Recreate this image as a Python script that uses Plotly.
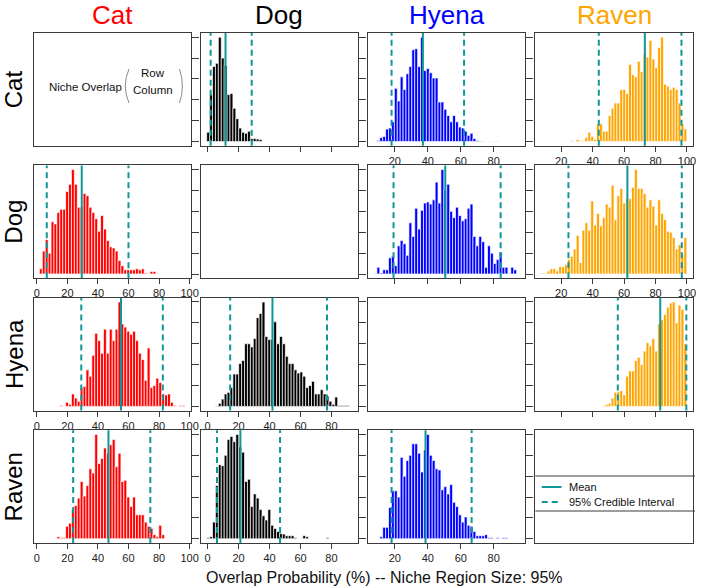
import plotly.graph_objects as go

FIG_W, FIG_H = 703, 586

species = ["Cat", "Dog", "Hyena", "Raven"]
species_colors = ["#FF0000", "#000000", "#0000FF", "#FFA500"]

# per-column range of the overlap values (%), split into 50 histogram bins
col_lo = [1.7, -0.54, 7.33, 7.3]
col_hi = [97.0, 93.4, 95.66, 99.9]
N_BINS = 50
x_ticks = [0, 20, 40, 60, 80, 100]
y_tick_frac = [0, 0.2, 0.4, 0.6, 0.8, 1.0]

# relative density of each bin (first non-empty bin index, heights)
# stats = [lower 95% CI, mean, upper 95% CI]
cat_dog_first = 0
cat_dog = [0.09, 0.45, 0.72, 0.75, 1.0, 0.8, 0.73, 0.45, 0.46, 0.32, 0.22, 0.13, 0.09,
           0.08, 0.1, 0.03, 0.03, 0.025, 0.02]
cat_dog_stats = [2.0, 11.6, 28.5]

cat_hyena_first = 1
cat_hyena = [0.01, 0.04, 0.05, 0.12, 0.13, 0.19, 0.51, 0.39, 0.62, 0.50, 0.65, 0.72, 0.88,
             0.89, 0.72, 1.0, 0.68, 0.70, 0.66, 0.61, 0.61, 0.38, 0.38, 0.31, 0.25, 0.19,
             0.25, 0.19, 0.14, 0.13, 0.10, 0.06, 0.08, 0.03, 0.01, 0.005, 0.004, 0, 0.004,
             0, 0.004, 0.004]
cat_hyena_stats = [18.0, 37.0, 62.0]

cat_raven_first = 10
cat_raven = [0.01, 0, 0.02, 0.01, 0.01, 0.04, 0.09, 0.05, 0.02, 0.17, 0.17, 0.10, 0.10,
             0.25, 0.32, 0.37, 0.37, 0.50, 0.50, 0.46, 0.74, 0.64, 0.62, 0.77, 0.67, 0.84,
             0.81, 0.97, 0.79, 0.71, 0.90, 1.0, 0.55, 0.53, 0.50, 0.52, 0.50, 0.37, 0.17, 0.12]
cat_raven_stats = [43.9, 73.2, 96.5]

dog_cat_first = 0
dog_cat = [0.05, 0.22, 0.33, 0.20, 0.50, 0.48, 0.59, 0.62, 0.62, 0.79, 0.86, 1.0, 0.86,
           0.64, 0.64, 0.77, 0.75, 0.64, 0.59, 0.53, 0.41, 0.56, 0.43, 0.32, 0.26, 0.25,
           0.22, 0.13, 0.08, 0.04, 0.04, 0.04, 0.04, 0.05, 0.04, 0.05, 0.01, 0.006, 0.025,
           0.025, 0.006]
dog_cat_stats = [6.5, 29.4, 60.0]

dog_hyena_first = 0
dog_hyena = [0.006, 0.065, 0.01, 0.04, 0.04, 0.155, 0.17, 0.08, 0.27, 0.32, 0.29, 0.18,
             0.49, 0.36, 0.63, 0.43, 0.61, 0.68, 0.69, 0.67, 0.71, 0.88, 0.68, 1.0, 0.80,
             0.86, 0.60, 0.54, 0.64, 0.56, 0.51, 0.53, 0.63, 0.67, 0.36, 0.27, 0.36, 0.31,
             0.065, 0.27, 0.20, 0.10, 0.14, 0.21, 0.065, 0.065, 0.006, 0.065, 0.04]
dog_hyena_stats = [19.2, 50.6, 84.2]

dog_raven_first = 0
dog_raven = [0.01, 0.01, 0.03, 0.05, 0.05, 0.03, 0.07, 0.07, 0.09, 0.14, 0.17, 0.24, 0.37,
             0.11, 0.42, 0.49, 0.42, 0.70, 0.47, 0.58, 0.46, 0.54, 0.67, 0.64, 0.85, 0.52,
             0.75, 0.82, 0.68, 0.72, 0.72, 0.83, 1.0, 0.82, 0.82, 0.77, 0.64, 0.71, 0.65,
             0.47, 0.71, 0.58, 0.52, 0.41, 0.40, 0.35, 0.24, 0.28, 0.19, 0.35]
dog_raven_stats = [24.6, 62.1, 96.7]

hyena_cat_first = 7
hyena_cat = [0.01, 0, 0.04, 0.02, 0.12, 0.08, 0.05, 0.18, 0.19, 0.35, 0.29, 0.49, 0.70,
             0.63, 0.51, 0.74, 0.51, 0.74, 0.63, 0.74, 1.0, 0.79, 0.76, 0.72, 0.69, 0.72,
             0.63, 0.51, 0.45, 0.25, 0.56, 0.18, 0.20, 0.27, 0.23, 0.12, 0.11, 0.12, 0.04,
             0.01, 0, 0.01, 0.01]
hyena_cat_stats = [29.1, 55.1, 82.5]

hyena_dog_first = 3
hyena_dog = [0.005, 0.03, 0.07, 0.12, 0.135, 0.18, 0.31, 0.31, 0.41, 0.44, 0.60, 0.60, 0.57,
             0.65, 0.85, 0.89, 1.0, 0.67, 0.64, 0.64, 0.81, 0.60, 0.67, 0.60, 0.48, 0.41,
             0.41, 0.35, 0.32, 0.33, 0.29, 0.18, 0.20, 0.24, 0.12, 0.12, 0.16, 0.12, 0.10,
             0.05, 0.02, 0.09, 0.01, 0.01, 0.01, 0.01]
hyena_dog_stats = [14.6, 41.9, 77.1]

hyena_raven_first = 21
hyena_raven = [0.01, 0.02, 0.03, 0.08, 0.135, 0.14, 0.15, 0.11, 0.29, 0.34, 0.34, 0.44, 0.47,
               0.40, 0.53, 0.61, 0.58, 0.65, 0.53, 0.79, 0.83, 0.88, 0.95, 0.99, 1.0, 0.80,
               0.97, 0.93, 0.6]
hyena_raven_stats = [56.0, 83.0, 99.6]

raven_cat_first = 6
raven_cat = [0.02, 0.01, 0.01, 0.12, 0.15, 0.28, 0.32, 0.39, 0.55, 0.41, 0.51, 0.67, 0.63,
             1.0, 0.72, 0.77, 0.87, 0.82, 0.90, 0.95, 0.69, 0.82, 0.55, 0.56, 0.40, 0.31,
             0.40, 0.23, 0.23, 0.23, 0.16, 0.12, 0.10, 0.04, 0.02, 0.13, 0.04]
raven_cat_stats = [23.8, 46.9, 74.3]

raven_dog_first = 0
raven_dog = [0.01, 0.02, 0.16, 0.51, 0.71, 0.70, 0.80, 0.95, 0.98, 0.93, 1.0, 0.88, 0.83,
             0.55, 0.57, 0.31, 0.43, 0.39, 0.28, 0.22, 0.18, 0.28, 0.13, 0.10, 0.07, 0.05,
             0.045, 0.03, 0.03, 0.03, 0.01, 0, 0, 0.03, 0.02, 0, 0, 0, 0, 0, 0, 0.01]
raven_dog_stats = [6.1, 21.2, 46.8]

raven_hyena_first = 2
raven_hyena = [0.02, 0.11, 0.11, 0.30, 0.46, 0.46, 0.40, 0.78, 0.60, 0.75, 0.80, 0.91, 0.91,
               0.82, 0.64, 0.85, 1.0, 0.80, 0.75, 0.67, 0.66, 0.47, 0.50, 0.43, 0.52, 0.35,
               0.31, 0.23, 0.16, 0.21, 0.13, 0.12, 0.07, 0.03, 0.03, 0.03, 0.04, 0.01, 0.01,
               0, 0.01, 0, 0.01, 0.01]
raven_hyena_stats = [18.0, 38.6, 66.6]

panels = {
    (0, 1): (cat_dog_first, cat_dog, cat_dog_stats),
    (0, 2): (cat_hyena_first, cat_hyena, cat_hyena_stats),
    (0, 3): (cat_raven_first, cat_raven, cat_raven_stats),
    (1, 0): (dog_cat_first, dog_cat, dog_cat_stats),
    (1, 2): (dog_hyena_first, dog_hyena, dog_hyena_stats),
    (1, 3): (dog_raven_first, dog_raven, dog_raven_stats),
    (2, 0): (hyena_cat_first, hyena_cat, hyena_cat_stats),
    (2, 1): (hyena_dog_first, hyena_dog, hyena_dog_stats),
    (2, 3): (hyena_raven_first, hyena_raven, hyena_raven_stats),
    (3, 0): (raven_cat_first, raven_cat, raven_cat_stats),
    (3, 1): (raven_dog_first, raven_dog, raven_dog_stats),
    (3, 2): (raven_hyena_first, raven_hyena, raven_hyena_stats),
}
labelled = {(0, 2), (0, 3), (1, 0), (1, 3), (2, 0), (2, 1), (3, 0), (3, 1), (3, 2)}

TEAL = "#109797"
FONT = "Liberation Sans, Arial, sans-serif"
AXIS_COL = "#3a3a3a"

COL_X0 = [34, 203.2, 372.4, 541.6]
PANEL_W = 159
ROW_Y0 = [33, 165.4, 297.8, 430.2]
PANEL_H = 112.8

fig = go.Figure()
layout = dict(
    width=FIG_W, height=FIG_H, margin=dict(l=0, r=0, t=0, b=0),
    paper_bgcolor="white", plot_bgcolor="white", showlegend=False,
    barmode="overlay", font=dict(family=FONT, color="#111"),
)
shapes = []
annotations = []

for r in range(4):
    for c in range(4):
        i = r * 4 + c + 1
        xs = "" if i == 1 else str(i)
        xd = [COL_X0[c] / FIG_W, (COL_X0[c] + PANEL_W) / FIG_W]
        yd = [1 - (ROW_Y0[r] + PANEL_H) / FIG_H, 1 - ROW_Y0[r] / FIG_H]
        span = col_hi[c] - col_lo[c]
        xr = [col_lo[c] - 0.04 * span, col_hi[c] + 0.04 * span]
        has_hist = (r, c) in panels
        is_legend = (r == 3 and c == 3)
        ymax = 1.0
        if has_hist:
            first, heights, stats = panels[(r, c)]
            ymax = max(heights)
            bw = span / N_BINS
            centers = [col_lo[c] + bw * (first + k + 0.5) for k in range(len(heights))]
            fig.add_trace(go.Bar(
                x=centers, y=heights, width=[bw] * len(heights),
                marker=dict(color=species_colors[c], line=dict(color="white", width=0.7)),
                xaxis="x" + xs, yaxis="y" + xs, hoverinfo="skip", showlegend=False,
            ))
            for k, v in enumerate(stats):
                shapes.append(dict(
                    type="line", xref="x" + xs, yref="y" + xs + " domain",
                    x0=v, x1=v, y0=0, y1=1,
                    line=dict(color=TEAL, width=2, dash="solid" if k == 1 else "6px,4px"),
                ))
        else:
            # invisible placeholder so that the empty panel's frame is drawn
            fig.add_trace(go.Scatter(
                x=[None], y=[None], mode="markers", marker=dict(opacity=0),
                xaxis="x" + xs, yaxis="y" + xs, hoverinfo="skip", showlegend=False,
            ))
        layout["xaxis" + xs] = dict(
            domain=xd, range=xr, anchor="y" + xs, showgrid=False, zeroline=False,
            showline=True, mirror=True, linecolor=AXIS_COL, linewidth=1,
            ticks="outside" if has_hist else "", ticklen=5, tickcolor=AXIS_COL,
            tickvals=x_ticks, showticklabels=(r, c) in labelled,
            tickfont=dict(size=11, color="#222", family=FONT), fixedrange=True,
        )
        layout["yaxis" + xs] = dict(
            domain=yd, range=[-0.04 * ymax, 1.04 * ymax], anchor="x" + xs, side="right",
            showgrid=False, zeroline=False, showline=True, mirror=True,
            linecolor=AXIS_COL, linewidth=1,
            ticks="outside" if (c < 3 and not is_legend) else "", ticklen=7,
            tickcolor=AXIS_COL, tickvals=[t * ymax for t in y_tick_frac],
            showticklabels=False, fixedrange=True,
        )

# column titles and row labels
for k, name in enumerate(species):
    annotations.append(dict(
        text=name, xref="paper", yref="paper",
        x=(COL_X0[k] + PANEL_W / 2) / FIG_W, y=1 - 15 / FIG_H,
        showarrow=False, xanchor="center", yanchor="middle",
        font=dict(size=26, color=species_colors[k], family=FONT),
    ))
    annotations.append(dict(
        text=name, xref="paper", yref="paper",
        x=14 / FIG_W, y=1 - (ROW_Y0[k] + PANEL_H / 2) / FIG_H,
        showarrow=False, xanchor="center", yanchor="middle", textangle=-90,
        font=dict(size=24, color="black", family=FONT),
    ))

annotations.append(dict(
    text="Overlap Probability (%) -- Niche Region Size: 95%", xref="paper", yref="paper",
    x=206 / FIG_W, y=1 - 577 / FIG_H, showarrow=False, xanchor="left", yanchor="middle",
    font=dict(size=16, color="#111", family=FONT),
))

# "Niche Overlap (Row / Column)" key in the top-left panel
def txt(s, px, py, size, color="#111", anchor="center"):
    annotations.append(dict(
        text=s, xref="paper", yref="paper", x=px / FIG_W, y=1 - py / FIG_H,
        showarrow=False, xanchor=anchor, yanchor="middle",
        font=dict(size=size, color=color, family=FONT),
    ))

txt("Niche Overlap", 86, 87, 11.5)
txt("Row", 155, 73, 11.5)
txt("Column", 155, 90, 11.5)


def paren(x_end, x_mid, y_top, y_bot):
    # thin curved bracket drawn as a quadratic path in paper coordinates
    cx = 2 * x_mid - x_end
    ym = (y_top + y_bot) / 2
    return dict(
        type="path", xref="paper", yref="paper",
        path=(f"M {x_end / FIG_W},{1 - y_top / FIG_H} "
              f"Q {cx / FIG_W},{1 - ym / FIG_H} {x_end / FIG_W},{1 - y_bot / FIG_H}"),
        line=dict(color="#8c8c8c", width=1),
    )


shapes.append(paren(130.5, 126.7, 69, 103))
shapes.append(paren(181.5, 184.5, 69, 103))

# legend in the bottom-right panel
LEG_TOP, LEG_BOT = 476, 511
for py in (LEG_TOP, LEG_BOT):
    shapes.append(dict(type="line", xref="paper", yref="paper",
                       x0=COL_X0[3] / FIG_W, x1=1, y0=1 - py / FIG_H, y1=1 - py / FIG_H,
                       line=dict(color=AXIS_COL, width=1)))
shapes.append(dict(type="line", xref="paper", yref="paper",
                   x0=548 / FIG_W, x1=568 / FIG_W, y0=1 - 487 / FIG_H, y1=1 - 487 / FIG_H,
                   line=dict(color=TEAL, width=2)))
shapes.append(dict(type="line", xref="paper", yref="paper",
                   x0=548 / FIG_W, x1=568 / FIG_W, y0=1 - 502 / FIG_H, y1=1 - 502 / FIG_H,
                   line=dict(color=TEAL, width=2, dash="6px,4px")))
txt("Mean", 574, 487, 11, anchor="left")
txt("95% Credible Interval", 574, 502, 11, anchor="left")

layout["shapes"] = shapes
layout["annotations"] = annotations
fig.update_layout(**layout)
fig.write_html("out.html")
